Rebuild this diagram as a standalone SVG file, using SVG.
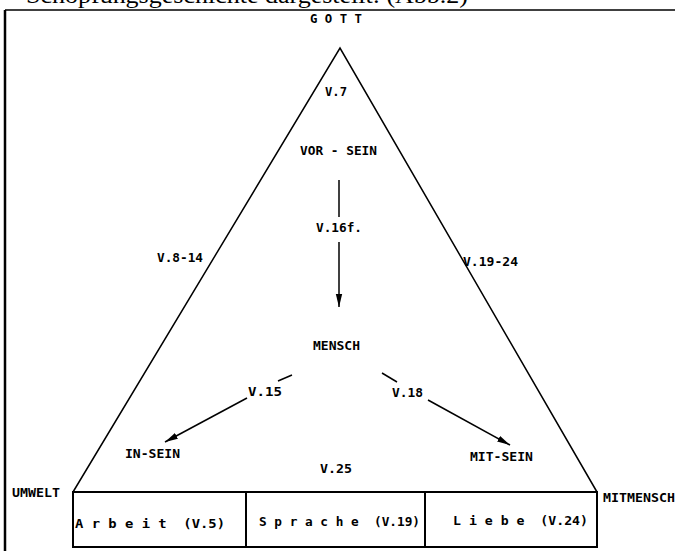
<svg xmlns="http://www.w3.org/2000/svg" width="675" height="551" viewBox="0 0 675 551">
<style>
.t{font-family:"DejaVu Sans Mono","Liberation Mono",monospace;font-weight:bold;font-size:13px;fill:#000}
.cap{font-family:"Liberation Serif","Times New Roman",serif;font-size:24px;fill:#000}
.ln{stroke:#000;stroke-width:1.5;fill:none}
.box{stroke:#000;stroke-width:2;fill:none}
</style>
<defs>
<marker id="ah" markerUnits="userSpaceOnUse" markerWidth="14" markerHeight="8" refX="13" refY="4" orient="auto">
<path d="M0,0.8 L13,4 L0,7.2 Z" fill="#000"/>
</marker>
</defs>
<rect width="675" height="551" fill="#fff"/>
<text class="cap" x="26" y="3" textLength="442" lengthAdjust="spacingAndGlyphs">Schöpfungsgeschichte dargestellt: (Abb.2)</text>
<g id="frame">
<line x1="5" y1="10" x2="675" y2="10" stroke="#000" stroke-width="1.5"/>
<line x1="5" y1="10" x2="5" y2="551" stroke="#000" stroke-width="2.5"/>
</g>
<g id="triangle">
<path class="ln" d="M73,492 L340,48 L597,492"/>
</g>
<g id="gott"><text class="t" x="310" y="22.5" textLength="52" lengthAdjust="spacingAndGlyphs" xml:space="preserve">G O T T</text></g>
<g id="v7"><text class="t" x="325" y="95.5" textLength="22" lengthAdjust="spacingAndGlyphs">V.7</text></g>
<g id="vorsein"><text class="t" x="300" y="154.5" textLength="77" lengthAdjust="spacingAndGlyphs">VOR - SEIN</text></g>
<g id="v16"><text class="t" x="316" y="231.5" textLength="46" lengthAdjust="spacingAndGlyphs">V.16f.</text></g>
<g id="v8"><text class="t" x="157" y="261.5" textLength="46" lengthAdjust="spacingAndGlyphs">V.8-14</text></g>
<g id="v19"><text class="t" x="463" y="265.5" textLength="55" lengthAdjust="spacingAndGlyphs">V.19-24</text></g>
<g id="mensch"><text class="t" x="313" y="349.5" textLength="47" lengthAdjust="spacingAndGlyphs">MENSCH</text></g>
<g id="v15"><text class="t" x="248" y="395.5" textLength="34" lengthAdjust="spacingAndGlyphs">V.15</text></g>
<g id="v18"><text class="t" x="392" y="396.5" textLength="31" lengthAdjust="spacingAndGlyphs">V.18</text></g>
<g id="insein"><text class="t" x="125" y="457.5" textLength="55" lengthAdjust="spacingAndGlyphs">IN-SEIN</text></g>
<g id="mitsein"><text class="t" x="470" y="460.5" textLength="63" lengthAdjust="spacingAndGlyphs">MIT-SEIN</text></g>
<g id="v25"><text class="t" x="320" y="472.5" textLength="32" lengthAdjust="spacingAndGlyphs">V.25</text></g>
<g id="umwelt"><text class="t" x="12" y="496.5" textLength="48" lengthAdjust="spacingAndGlyphs">UMWELT</text></g>
<g id="mitmensch"><text class="t" x="603" y="501.5" textLength="72" lengthAdjust="spacingAndGlyphs">MITMENSCH</text></g>
<g id="boxes">
<rect class="box" x="73" y="492" width="524" height="55"/>
<line class="box" x1="246" y1="492" x2="246" y2="547"/>
<line class="box" x1="425" y1="492" x2="425" y2="547"/>
</g>
<g id="arbeit"><text class="t" x="75" y="527.5" textLength="150" lengthAdjust="spacingAndGlyphs" xml:space="preserve">A r b e i t  (V.5)</text></g>
<g id="sprache"><text class="t" x="259" y="525.5" textLength="161" lengthAdjust="spacingAndGlyphs" xml:space="preserve">S p r a c h e  (V.19)</text></g>
<g id="liebe"><text class="t" x="453" y="524.5" textLength="135" lengthAdjust="spacingAndGlyphs" xml:space="preserve">L i e b e  (V.24)</text></g>
<g id="connectors">
<line class="ln" x1="339" y1="180" x2="339" y2="217" stroke-width="1"/>
<line class="ln" x1="339" y1="242" x2="339" y2="307" stroke-width="2" marker-end="url(#ah)"/>
<line class="ln" x1="292" y1="375" x2="278" y2="381"/>
<line class="ln" x1="247" y1="398" x2="165" y2="442" stroke-width="2" marker-end="url(#ah)"/>
<line class="ln" x1="382" y1="373" x2="397" y2="382"/>
<line class="ln" x1="428" y1="400" x2="510" y2="445" stroke-width="2" marker-end="url(#ah)"/>
</g>
</svg>
